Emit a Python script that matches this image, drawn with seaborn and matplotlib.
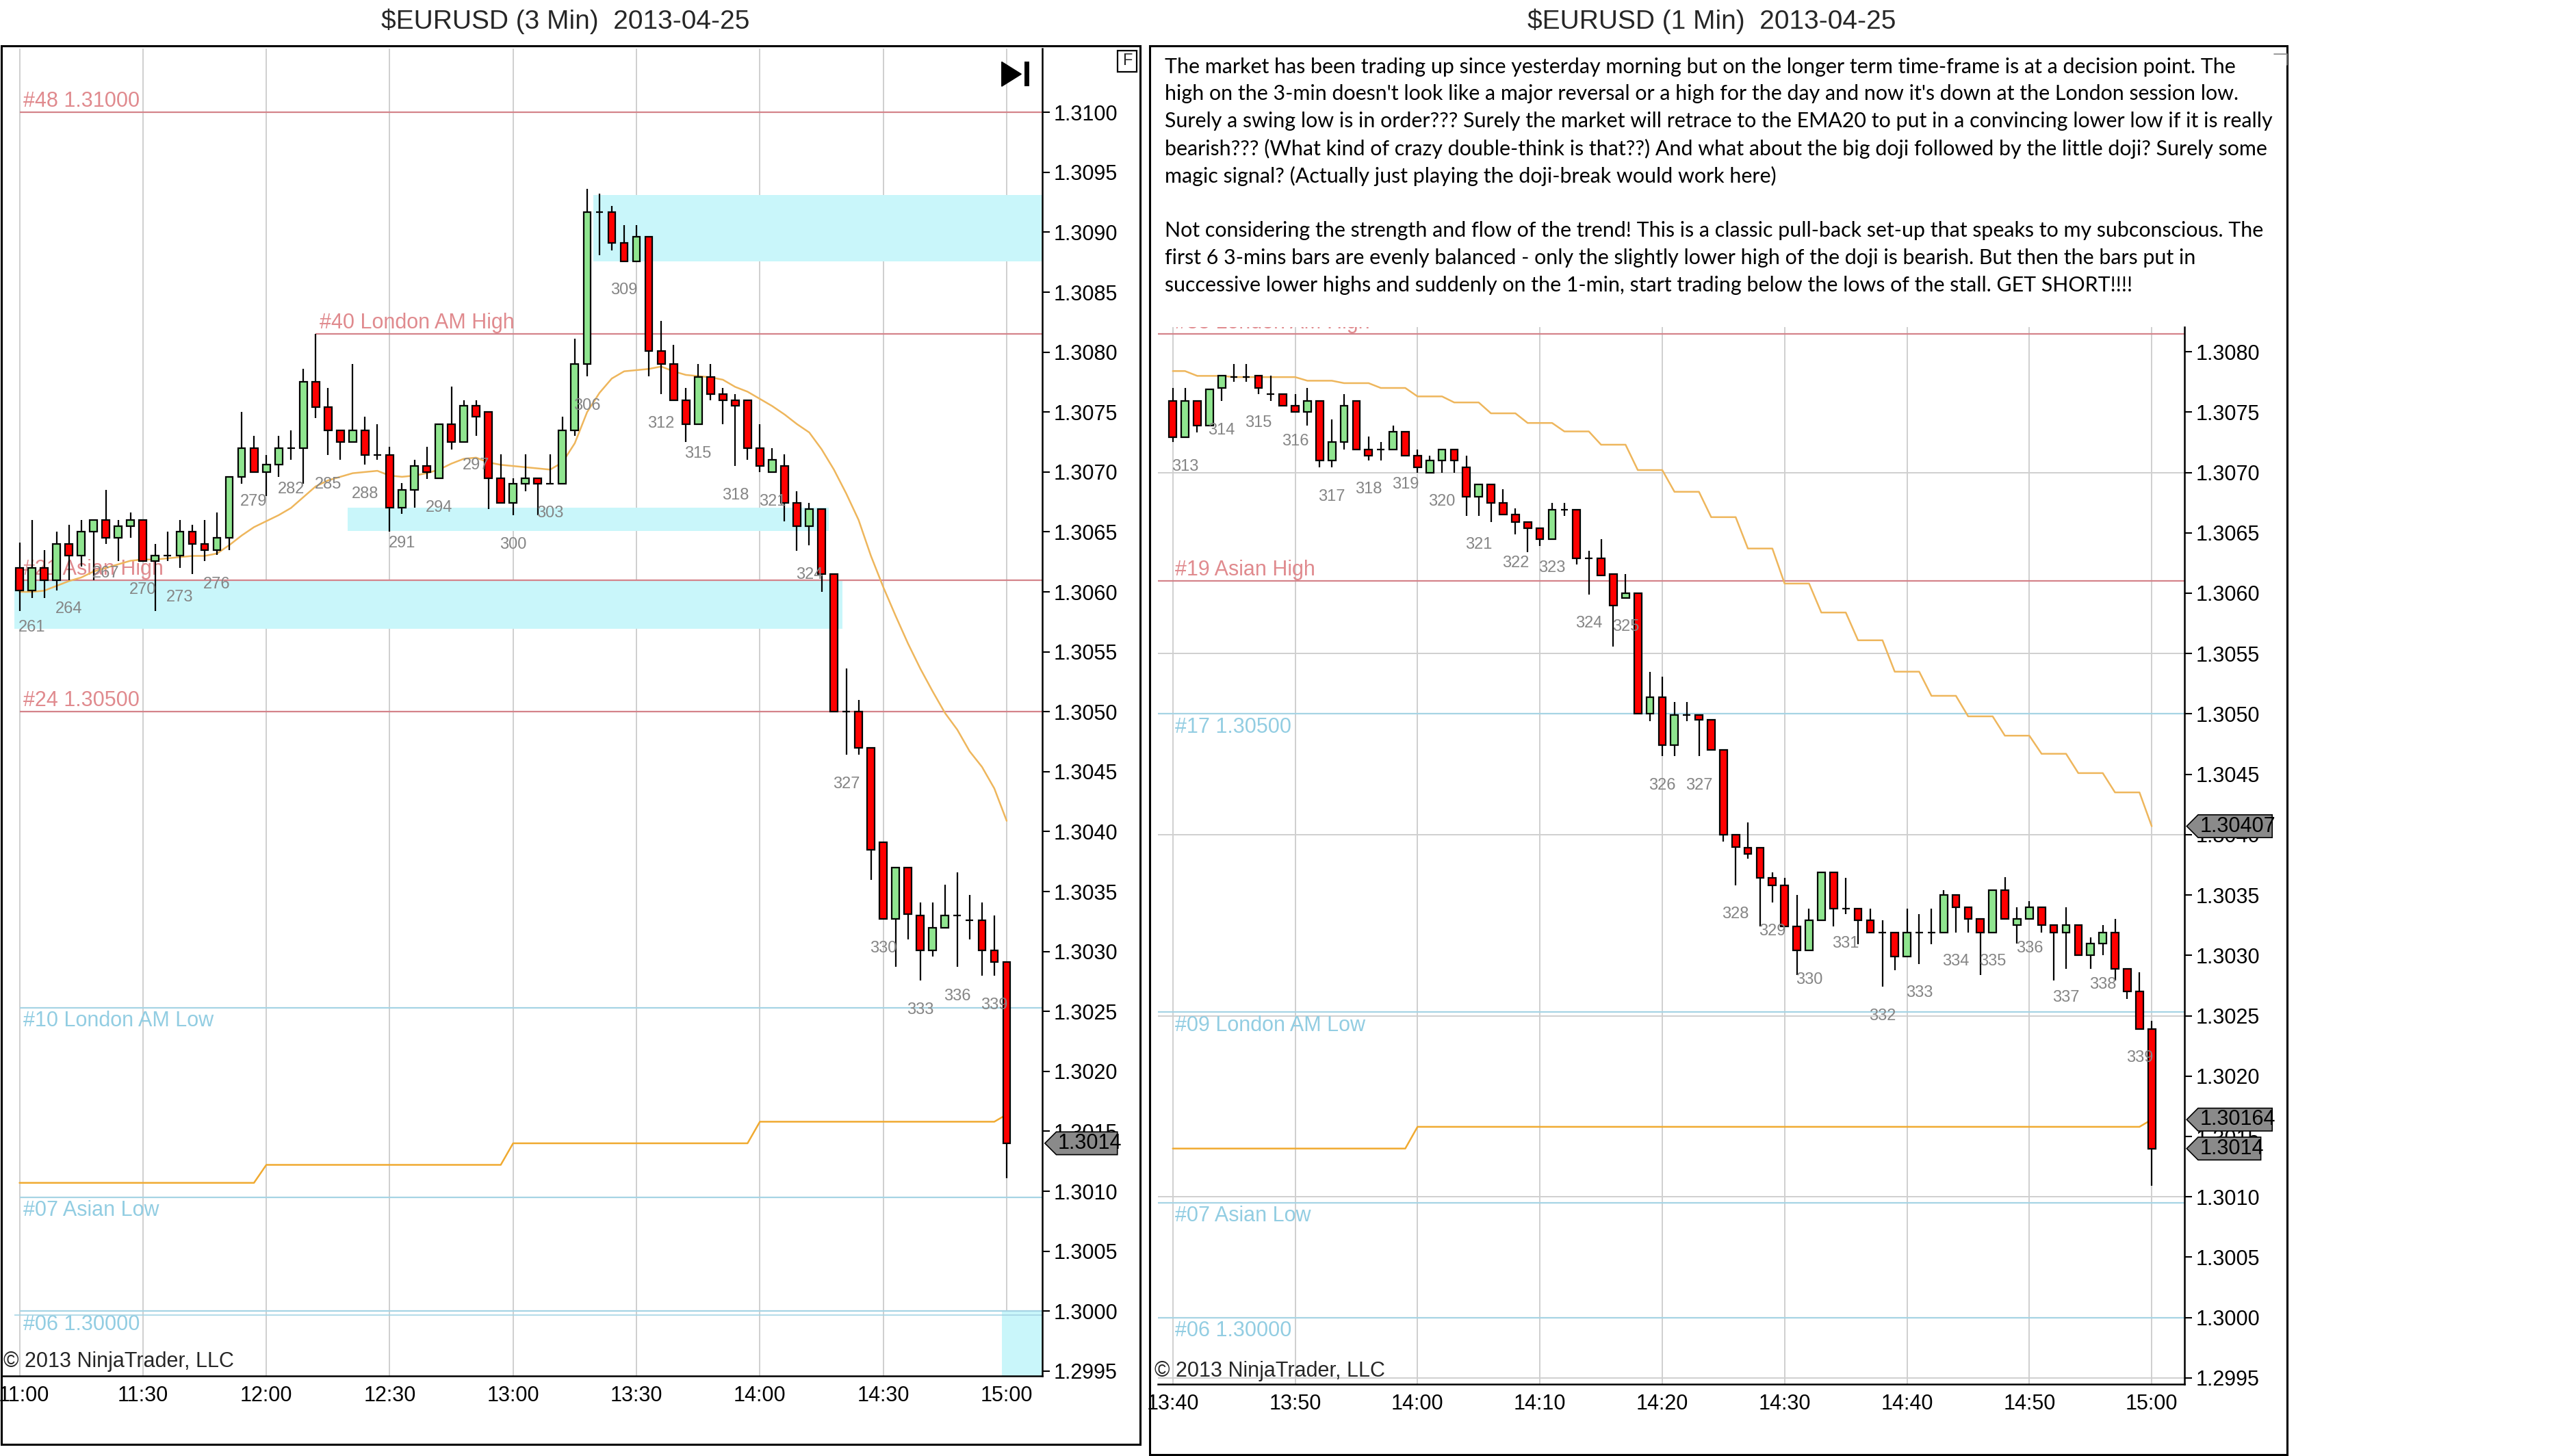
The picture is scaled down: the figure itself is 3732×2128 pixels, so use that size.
import numpy as np
import matplotlib
matplotlib.use('Agg')
import matplotlib.pyplot as plt
import matplotlib.transforms as mtransforms
import seaborn as sns
from matplotlib import font_manager
from matplotlib.patches import Rectangle, Polygon

# ---- 3-min chart, bars 260..340 (11:00 .. 15:00) ----
left_bar = list(range(260, 341))
left_open = [62.0, 60.1, 62.0, 61.0, 64.0, 63.0, 65.0, 66.0, 64.5, 65.5,
             66.0, 62.6, 63.0, 63.0, 65.0, 64.0, 63.5, 64.5, 69.6, 72.0,
             70.0, 70.6, 72.0, 72.0, 77.5, 75.4, 73.5, 72.5, 73.5, 71.4,
             71.4, 67.0, 68.5, 70.5, 69.5, 74.0, 72.5, 75.5, 75.0, 69.5,
             67.4, 69.0, 69.5, 69.0, 69.0, 73.5, 79.0, 91.7, 91.7, 89.1,
             87.6, 89.6, 80.1, 79.0, 76.0, 74.0, 77.9, 76.5, 76.0, 76.0,
             72.0, 70.0, 70.5, 67.4, 65.5, 66.9, 61.5, 50.0, 50.0, 47.0,
             39.1, 32.7, 37.0, 33.0, 30.1, 32.0, 33.0, 32.6, 32.6, 30.1,
             29.1]
left_high = [64.1, 66.0, 63.5, 65.0, 65.6, 66.0, 66.0, 68.5, 66.0, 66.6,
             66.0, 64.0, 65.0, 66.0, 65.6, 66.0, 66.6, 69.6, 75.0, 73.0,
             71.4, 73.0, 73.5, 78.6, 81.5, 77.0, 73.5, 79.0, 74.6, 74.0,
             72.1, 69.1, 71.0, 72.1, 74.0, 77.1, 76.0, 76.0, 75.0, 71.5,
             69.5, 71.5, 69.5, 71.5, 74.6, 81.1, 93.6, 93.2, 92.2, 90.6,
             90.6, 89.6, 82.6, 80.6, 77.0, 79.0, 79.0, 77.0, 76.5, 76.0,
             74.0, 72.0, 71.5, 68.4, 67.4, 66.9, 61.5, 53.6, 51.0, 47.0,
             39.1, 37.0, 37.0, 34.1, 34.1, 35.6, 36.6, 34.7, 34.1, 33.0,
             29.1]
left_low = [58.4, 59.5, 59.5, 60.1, 61.0, 62.1, 61.0, 64.0, 62.6, 64.5,
            62.6, 58.4, 62.6, 62.0, 61.5, 62.6, 63.1, 63.5, 69.0, 70.0,
            68.0, 69.6, 71.0, 69.0, 74.5, 71.4, 71.0, 72.5, 70.6, 71.0,
            65.0, 66.5, 67.0, 69.4, 69.5, 71.9, 72.5, 73.0, 66.9, 67.4,
            66.4, 68.4, 66.4, 69.0, 69.0, 73.0, 78.0, 88.1, 88.5, 87.6,
            87.6, 78.0, 76.5, 76.0, 72.5, 74.0, 76.0, 74.0, 70.5, 71.0,
            70.0, 70.0, 65.9, 63.4, 63.9, 60.0, 50.0, 46.4, 46.4, 36.0,
            32.7, 28.7, 31.0, 27.6, 29.6, 32.0, 28.7, 31.0, 28.0, 28.0,
            11.1]
left_close = [60.1, 62.0, 61.0, 64.0, 63.0, 65.0, 66.0, 64.5, 65.5, 66.0,
              62.6, 63.0, 63.0, 65.0, 64.0, 63.5, 64.5, 69.6, 72.0, 70.0,
              70.6, 72.0, 72.0, 77.5, 75.4, 73.5, 72.5, 73.5, 71.4, 71.4,
              67.0, 68.5, 70.5, 70.0, 74.0, 72.5, 75.5, 74.6, 69.5, 67.4,
              69.0, 69.5, 69.0, 69.0, 73.5, 79.0, 91.7, 91.7, 89.1, 87.6,
              89.6, 80.1, 79.0, 76.0, 74.0, 77.9, 76.5, 76.0, 75.5, 72.0,
              70.5, 71.0, 67.4, 65.5, 66.9, 61.5, 50.0, 50.0, 47.0, 38.5,
              32.7, 37.0, 33.1, 30.1, 32.0, 33.0, 33.0, 32.6, 30.1, 29.1,
              14.0]
left_ema = [60.0, 60.0, 60.1, 60.5, 60.9, 61.2, 61.7, 62.0, 62.3, 62.6,
            62.7, 62.7, 62.8, 62.9, 63.0, 63.0, 63.2, 63.9, 64.7, 65.4,
            65.9, 66.4, 67.0, 67.9, 68.8, 69.3, 69.6, 69.9, 70.0, 70.1,
            69.7, 69.6, 69.7, 69.9, 70.2, 70.7, 71.1, 71.2, 70.8, 70.6,
            70.5, 70.4, 70.3, 70.2, 70.8, 72.4, 75.0, 76.6, 77.8, 78.4,
            78.5, 78.6, 78.8, 78.4, 78.1, 78.0, 77.9, 77.7, 77.1, 76.7,
            76.1, 75.5, 74.8, 74.0, 73.3, 71.9, 70.2, 68.2, 66.0, 63.0,
            60.4, 58.0, 55.7, 53.6, 51.7, 49.9, 48.5, 46.7, 45.4, 43.6,
            40.9]
# slow orange line: one level per hour (bars per level)
left_base_level = [10.7, 12.2, 14.0, 15.8, 16.4]
left_base_count = [20, 20, 20, 20, 1]

left_level_name = ['#48 1.31000', '#40 London AM High', '#21 Asian High', '#24 1.30500',
                   '#10 London AM Low', '#07 Asian Low', '#06 1.30000']
left_level_pips = [100.0, 81.5, 61.0, 50.0, 25.3, 9.5, 0.0]
left_level_side = ['high', 'high', 'high', 'high', 'low', 'low', 'low']
left_level_start = [260, 284, 260, 260, 260, 260, 260]

left_zone_bar0 = [306.5, 286.6, 259.6, 339.6]
left_zone_bar1 = [343.0, 325.6, 326.7, 343.0]
left_zone_lo = [87.6, 65.1, 56.9, -6.0]
left_zone_hi = [93.1, 67.0, 61.0, 0.0]

left_time_bar = [260, 270, 280, 290, 300, 310, 320, 330, 340]
left_time_label = ['11:00', '11:30', '12:00', '12:30', '13:00', '13:30', '14:00', '14:30', '15:00']

# ---- 1-min chart, k = minutes after 13:40 ----
right_k = list(range(0, 81))
right_open = [75.9, 72.9, 75.9, 73.9, 77.0, 77.9, 77.9, 78.0, 76.5, 76.5,
              75.5, 75.0, 75.9, 71.0, 72.5, 75.9, 71.9, 71.9, 71.9, 73.4,
              71.4, 70.0, 71.0, 71.9, 70.4, 68.0, 69.0, 67.5, 66.5, 65.9,
              65.4, 64.5, 66.9, 66.9, 62.9, 62.9, 61.6, 59.6, 60.0, 50.0,
              51.4, 47.4, 49.9, 49.9, 49.5, 47.0, 40.0, 38.9, 38.9, 36.4,
              35.8, 32.4, 30.4, 32.9, 36.9, 33.9, 33.9, 32.9, 31.9, 31.9,
              29.9, 31.9, 31.9, 31.9, 35.0, 34.0, 33.0, 31.9, 35.4, 32.5,
              33.0, 34.0, 32.5, 31.9, 32.5, 30.0, 31.0, 31.9, 28.9, 27.0,
              23.9]
right_high = [77.0, 77.0, 75.9, 76.9, 78.0, 79.0, 79.0, 78.0, 78.0, 76.5,
              76.5, 77.0, 75.9, 74.4, 76.5, 75.9, 73.0, 72.5, 73.9, 73.4,
              71.9, 71.4, 71.9, 71.9, 71.4, 69.0, 69.0, 68.6, 67.0, 65.9,
              65.4, 67.5, 67.5, 66.9, 63.5, 64.5, 61.6, 61.6, 60.0, 53.5,
              53.1, 51.0, 51.0, 49.9, 49.5, 47.0, 40.0, 41.0, 38.9, 36.9,
              36.4, 35.0, 33.9, 36.9, 36.9, 36.4, 33.9, 33.9, 32.9, 31.9,
              33.9, 33.4, 33.9, 35.4, 35.0, 34.0, 33.0, 35.4, 36.5, 34.0,
              34.5, 34.0, 32.5, 34.0, 32.5, 31.5, 32.5, 33.0, 28.9, 28.6,
              24.6]
right_low = [72.5, 72.9, 73.3, 73.9, 75.9, 77.5, 77.5, 76.5, 75.9, 75.5,
             75.0, 73.9, 70.4, 70.4, 71.9, 71.9, 71.0, 71.0, 71.9, 71.4,
             70.0, 70.0, 70.0, 70.0, 66.4, 66.4, 65.9, 66.5, 64.9, 63.4,
             63.9, 64.5, 66.4, 62.4, 59.9, 61.5, 55.6, 59.6, 50.0, 49.4,
             46.5, 46.5, 49.4, 46.5, 47.0, 39.4, 35.8, 38.0, 32.4, 34.4,
             32.4, 28.4, 30.4, 32.9, 32.4, 33.4, 30.9, 31.9, 27.4, 28.8,
             29.9, 29.3, 30.9, 31.9, 31.9, 31.9, 28.4, 31.9, 33.0, 31.0,
             33.0, 31.9, 27.9, 28.9, 30.0, 28.9, 30.0, 27.9, 26.4, 23.9,
             10.9]
right_close = [72.9, 75.9, 73.9, 76.9, 78.0, 77.9, 77.9, 77.0, 76.5, 75.5,
               75.0, 75.9, 71.0, 72.5, 75.5, 71.9, 71.4, 71.9, 73.4, 71.4,
               70.4, 71.0, 71.9, 71.0, 68.0, 69.0, 67.5, 66.5, 65.9, 65.4,
               64.5, 66.9, 66.9, 62.9, 62.9, 61.5, 59.0, 60.0, 50.0, 51.4,
               47.4, 49.9, 49.9, 49.5, 47.0, 40.0, 39.0, 38.4, 36.4, 35.8,
               32.4, 30.4, 32.9, 36.9, 33.9, 33.9, 32.9, 31.9, 31.9, 29.9,
               31.9, 31.9, 31.9, 35.0, 34.0, 33.0, 31.9, 35.4, 33.0, 33.0,
               34.0, 32.5, 31.9, 32.5, 30.0, 31.0, 31.9, 28.9, 27.0, 23.9,
               14.0]
# 3-min EMA20 seen on the 1-min chart: one value per 3-min block
right_ema_level = [78.4, 78.0, 77.9, 77.9, 77.6, 77.4, 77.0, 76.3, 75.8, 74.9,
                   74.1, 73.4, 72.3, 70.2, 68.4, 66.3, 63.7, 60.8, 58.4, 56.1,
                   53.5, 51.5, 49.8, 48.2, 46.7, 45.1, 43.5, 40.7]
right_ema_count = [2] + [3] * 26 + [1]
right_base_level = [14.0, 15.8, 16.4]
right_base_count = [20, 60, 1]
right_label_first = 313   # 3-min bar numbers printed under the 1-min bars

right_level_name = ['#38 London AM High', '#19 Asian High', '#17 1.30500',
                    '#09 London AM Low', '#07 Asian Low', '#06 1.30000']
right_level_pips = [81.5, 61.0, 50.0, 25.3, 9.5, 0.0]
right_level_side = ['high', 'high', 'low', 'low', 'low', 'low']
right_hgrid_pips = [70, 55, 40, 25, 10, -5]

right_time_k = [0, 10, 20, 30, 40, 50, 60, 70, 80]
right_time_label = ['13:40', '13:50', '14:00', '14:10', '14:20', '14:30', '14:40', '14:50', '15:00']

note_lines = [
    "The market has been trading up since yesterday morning but on the longer term time-frame is at a decision point. The",
    "high on the 3-min doesn't look like a major reversal or a high for the day and now it's down at the London session low.",
    "Surely a swing low is in order??? Surely the market will retrace to the EMA20 to put in a convincing lower low if it is really",
    "bearish??? (What kind of crazy double-think is that??) And what about the big doji followed by the little doji? Surely some",
    "magic signal? (Actually just playing the doji-break would work here)",
    "",
    "Not considering the strength and flow of the trend! This is a classic pull-back set-up that speaks to my subconscious. The",
    "first 6 3-mins bars are evenly balanced - only the slightly lower high of the doji is bearish. But then the bars put in",
    "successive lower highs and suddenly on the 1-min, start trading below the lows of the stall. GET SHORT!!!!",
]

# ---------------------------------------------------------------
sns.set_style('white')
installed = {f.name for f in font_manager.fontManager.ttflist}
NARROW = 'Liberation Sans Narrow' if 'Liberation Sans Narrow' in installed else 'Liberation Sans'
NOTE_FONT = 'Lato' if 'Lato' in installed else 'DejaVu Sans'
plt.rcParams['font.family'] = [NARROW, 'DejaVu Sans']

RED_LINE, RED_TEXT = '#d4838a', '#e08a8e'
BLUE_LINE, BLUE_TEXT = '#a6d4e4', '#92cde2'
ZONE = '#c9f6fa'
EMA_COL, BASE_COL = '#eeb65c', '#f0aa30'
GRID = '#cfcfcf'


def px(v):
    return 1.3 + np.asarray(v, dtype=float) / 1e4


def fx(x):
    return x / 1568.0


def fy(y):
    return 1 - y / 894.0


fig = plt.figure(figsize=(37.32, 21.28), dpi=100)

axL = fig.add_axes([fx(1), fy(845), fx(640) - fx(1), fy(30) - fy(845)])
axR = fig.add_axes([fx(711), fy(850), fx(1341) - fx(711), fy(201) - fy(850)])

axL.set_xlim(258.55, 342.9)
axL.set_ylim(px(-5.43), px(105.3))
axR.set_xlim(-1.2, 82.66)
axR.set_ylim(px(-5.53), px(82.02))


def candles(ax, x, o, h, l, c, width):
    x = np.asarray(x, dtype=float)
    o, h, l, c = px(o), px(h), px(l), px(c)
    ax.vlines(x, l, h, color='black', linewidth=1.6, zorder=4)
    ax.bar(x, np.abs(c - o), width=width, bottom=np.minimum(o, c),
           color=np.where(c >= o, '#8fe58f', '#ff0000'), edgecolor='black',
           linewidth=1.6, zorder=5)


def levels(ax, names, vals, sides, starts, xmax, label_dx):
    for name, v, side, x0 in zip(names, vals, sides, starts):
        y = px(v)
        if side == 'high':
            ax.hlines(y, x0, xmax, color=RED_LINE, linewidth=1.6, zorder=2)
            ax.text(x0 + label_dx, px(v + 0.45), name, color=RED_TEXT, fontsize=22,
                    va='baseline', ha='left', zorder=2, clip_on=True)
        else:
            ax.hlines(y, x0, xmax, color=BLUE_LINE, linewidth=1.6, zorder=2)
            ax.text(x0 + label_dx, px(v - 0.25), name, color=BLUE_TEXT, fontsize=22,
                    va='top', ha='left', zorder=2, clip_on=True)


# ---- left (3 min) ----
for b0, b1, lo, hi in zip(left_zone_bar0, left_zone_bar1, left_zone_lo, left_zone_hi):
    axL.add_patch(Rectangle((b0, px(lo)), b1 - b0, px(hi) - px(lo), color=ZONE, lw=0, zorder=1))
levels(axL, left_level_name, left_level_pips, left_level_side, left_level_start, 343.0, 0.3)
axL.hlines(px(-0.35), 259.6, 343.0, color=BLUE_LINE, linewidth=1.2, zorder=2)
sns.lineplot(x=left_bar, y=px(left_ema), ax=axL, color=EMA_COL, linewidth=1.8, zorder=3)
sns.lineplot(x=left_bar, y=px(np.repeat(left_base_level, left_base_count)), ax=axL,
             color=BASE_COL, linewidth=1.8, zorder=3)
candles(axL, left_bar, left_open, left_high, left_low, left_close, 0.6)
for n in range(261, 340, 3):
    i = n - left_bar[0]
    axL.text(n, px(left_low[i] - 2.45), str(n), fontsize=17, color='#858585',
             ha='center', va='center', zorder=6)

# ---- right (1 min) ----
for g in right_hgrid_pips:
    axR.axhline(px(g), color=GRID, linewidth=1.4, zorder=0.5)
levels(axR, right_level_name, right_level_pips, right_level_side,
       [-1.2] * len(right_level_name), 82.66, 1.4)
sns.lineplot(x=right_k, y=px(np.repeat(right_ema_level, right_ema_count)), ax=axR,
             color=EMA_COL, linewidth=1.8, zorder=3)
sns.lineplot(x=right_k, y=px(np.repeat(right_base_level, right_base_count)), ax=axR,
             color=BASE_COL, linewidth=1.8, zorder=3)
candles(axR, right_k, right_open, right_high, right_low, right_close, 0.6)
for n in range(right_label_first, 340):
    k = 1 + 3 * (n - right_label_first)
    axR.text(k, px(right_low[k] - 2.4), str(n), fontsize=17, color='#858585',
             ha='center', va='center', zorder=6)

# ---- axes styling ----
for ax, tb, tl, top in ((axL, left_time_bar, left_time_label, 1.3100),
                        (axR, right_time_k, right_time_label, 1.3080)):
    ax.set_xticks(tb)
    ax.set_xticklabels(tl)
    yt = np.arange(1.2995, top + 1e-6, 0.0005)
    ax.set_yticks(yt)
    ax.set_yticklabels(['%.4f' % v for v in yt])
    ax.yaxis.tick_right()
    ax.grid(axis='x', color=GRID, linewidth=1.4, zorder=0.5)
    ax.grid(axis='y', visible=False)
    ax.set_axisbelow(True)
    ax.spines['left'].set_visible(False)
    ax.spines['top'].set_visible(False)
    for s in ('bottom', 'right'):
        ax.spines[s].set_color('black')
        ax.spines[s].set_linewidth(1.8)
    ax.tick_params(axis='x', direction='out', length=8, width=1.5, pad=2,
                   labelsize=22, colors='black')
    ax.tick_params(axis='y', direction='out', length=8, width=1.5, pad=4,
                   labelsize=22, colors='black', right=True, left=False,
                   labelright=True, labelleft=False)
    ax.set_xlabel('')
    ax.set_ylabel('')

# keep the 11:00 label inside the picture
first = axL.get_xticklabels()[0]
first.set_transform(first.get_transform() +
                    mtransforms.ScaledTranslation(6 / 100.0, 0, fig.dpi_scale_trans))


# ---- price tags ----
def tag(ax, value, text, right_px):
    yfig = fig.transFigure.inverted().transform(ax.transData.transform((0, px(value))))[1]
    x0 = ax.get_position().x1 + fx(1.5)
    h = 7.0 / 894.0
    pts = [(x0, yfig), (x0 + fx(7), yfig + h), (fx(right_px), yfig + h),
           (fx(right_px), yfig - h), (x0 + fx(7), yfig - h)]
    fig.add_artist(Polygon(pts, closed=True, transform=fig.transFigure,
                           facecolor='#8a8a8a', edgecolor='black', linewidth=1.2, zorder=10))
    fig.text(x0 + fx(8), yfig, text, fontsize=22, color='black', ha='left',
             va='center', zorder=11)


tag(axL, left_close[-1], '%.4f' % px(left_close[-1]), 686)
tag(axR, right_ema_level[-1], '%.5f' % px(right_ema_level[-1]), 1395)
tag(axR, right_base_level[-1], '%.5f' % px(right_base_level[-1]), 1395)
tag(axR, right_close[-1], '%.4f' % px(right_close[-1]), 1388)

# ---- frames, titles, decorations ----
fig.add_artist(Rectangle((fx(1), fy(887)), fx(700) - fx(1), fy(28) - fy(887), fill=False,
                         edgecolor='black', linewidth=2.2, transform=fig.transFigure))
fig.add_artist(Rectangle((fx(706), fy(893)), fx(1404) - fx(706), fy(28) - fy(893), fill=False,
                         edgecolor='black', linewidth=2.2, transform=fig.transFigure))
fig.text(fx(347), fy(13), '$EURUSD (3 Min)  2013-04-25', ha='center', va='center',
         fontsize=28, family='Liberation Sans', parse_math=False)
fig.text(fx(1051), fy(13), '$EURUSD (1 Min)  2013-04-25', ha='center', va='center',
         fontsize=28, family='Liberation Sans', parse_math=False)

# F box and "go to end" icon
fig.add_artist(Rectangle((fx(686), fy(44)), fx(12), 13 / 894.0, fill=False, edgecolor='black',
                         linewidth=1.6, transform=fig.transFigure))
fig.text(fx(692), fy(37.5), 'F', ha='center', va='center', fontsize=17, family='Liberation Sans')
fig.add_artist(Polygon([(fx(615), fy(38)), (fx(615), fy(53)), (fx(627), fy(45.5))],
                       closed=True, facecolor='black', edgecolor='black', transform=fig.transFigure))
fig.add_artist(Rectangle((fx(629), fy(53)), fx(3), 15 / 894.0, facecolor='black',
                         edgecolor='none', transform=fig.transFigure))

fig.text(fx(2), fy(836), '\u00a9 2013 NinjaTrader, LLC', ha='left', va='center', fontsize=22)
fig.text(fx(709), fy(842), '\u00a9 2013 NinjaTrader, LLC', ha='left', va='center', fontsize=22)

# commentary box, font size fitted to the widest line
renderer = fig.canvas.get_renderer()
widths = []
for s in note_lines:
    if s:
        t = fig.text(0, 0, s, fontsize=20, family=NOTE_FONT)
        widths.append(t.get_window_extent(renderer).width)
        t.remove()
note_size = 20 * (fx(1396) - fx(715)) * fig.bbox.width / max(widths)
for i, s in enumerate(note_lines):
    if s:
        fig.text(fx(715), fy(41 + i * 16.75), s, fontsize=note_size, family=NOTE_FONT,
                 ha='left', va='center', color='black')
fig.add_artist(plt.Line2D([fx(1396), fx(1404)], [fy(33), fy(33)], color='#888888',
                          linewidth=1.2, transform=fig.transFigure))
fig.add_artist(plt.Line2D([fx(1404), fx(1404)], [fy(33), fy(40)], color='#888888',
                          linewidth=1.2, transform=fig.transFigure))

fig.savefig('out.png', dpi=100, facecolor='white')
